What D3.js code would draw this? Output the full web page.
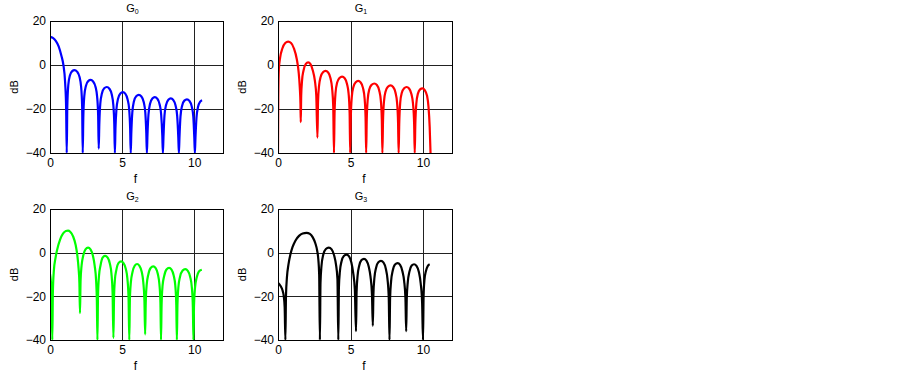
<!DOCTYPE html>
<html>
<head>
<meta charset="utf-8">
<script src="https://cdn.jsdelivr.net/npm/d3@7"></script>
<style>
  body { margin: 0; background: #fff; }
  text { font-family: "Liberation Sans", Arial, sans-serif; fill: #000; }
</style>
</head>
<body>
<svg id="chart" width="902" height="375"></svg>
<script>
// spectra, [f, dB]
const g0 = [[0,12.8],[0.2,12.3],[0.4,11],[0.6,8.5],[0.8,4],[0.93,0],[1.05,-8],[1.12,-20],[1.16,-40],
  [1.2,-19],[1.27,-9],[1.38,-4.8],[1.54,-2.8],[1.7,-2.3],[1.88,-3],[2.05,-5.5],[2.16,-10],[2.23,-19],[2.27,-40],
  [2.31,-24],[2.38,-14],[2.49,-9.5],[2.65,-7.3],[2.82,-6.8],[2.99,-7.5],[3.16,-10],[3.27,-14.5],[3.34,-23],[3.38,-38],
  [3.42,-27],[3.49,-17.5],[3.6,-13],[3.76,-10.6],[3.94,-10],[4.12,-10.8],[4.28,-13.3],[4.39,-18],[4.46,-27],[4.5,-40],
  [4.54,-29],[4.61,-20],[4.72,-15.3],[4.88,-12.9],[5.05,-12.3],[5.22,-13],[5.38,-15.6],[5.49,-20],[5.56,-29],[5.6,-40],
  [5.64,-31],[5.71,-21.5],[5.82,-16.6],[5.98,-14.2],[6.16,-13.6],[6.34,-14.3],[6.5,-16.8],[6.61,-21.5],[6.68,-31],[6.72,-40],
  [6.76,-32],[6.83,-22.5],[6.94,-17.6],[7.1,-15.2],[7.27,-14.6],[7.44,-15.3],[7.6,-17.8],[7.71,-22.5],[7.79,-32],[7.83,-40],
  [7.87,-33],[7.94,-23],[8.05,-18.2],[8.21,-15.8],[8.38,-15.2],[8.55,-15.9],[8.71,-18.4],[8.82,-23],[8.9,-33],[8.94,-40],
  [8.98,-33],[9.05,-23.5],[9.16,-18.6],[9.32,-16.2],[9.5,-15.6],[9.67,-16.3],[9.83,-18.8],[9.94,-23.5],[10.01,-33],[10.05,-40],
  [10.09,-33],[10.16,-24],[10.27,-19],[10.42,-16.6],[10.55,-16]];

const g1 = [[0,-40],[0.02,-15],[0.06,-2],[0.15,3.5],[0.3,7.5],[0.5,10],[0.7,10.6],[0.9,10],[1.1,7.5],[1.3,2.5],[1.42,-3],[1.5,-10],[1.55,-18],[1.57,-26],
  [1.6,-14],[1.66,-7],[1.76,-2.5],[1.92,0.5],[2.08,1.2],[2.24,0.4],[2.4,-2.5],[2.54,-7],[2.64,-14],[2.72,-33],
  [2.76,-17],[2.83,-9.5],[2.94,-5.5],[3.1,-3.3],[3.28,-2.7],[3.46,-3.4],[3.62,-6],[3.73,-10.5],[3.81,-19],[3.86,-40],
  [3.9,-22],[3.97,-12.5],[4.08,-8],[4.24,-5.9],[4.42,-5.3],[4.6,-6],[4.76,-8.6],[4.87,-13],[4.94,-22],[4.98,-40],
  [5.02,-24],[5.09,-14.5],[5.2,-10],[5.36,-7.8],[5.53,-7.2],[5.7,-7.9],[5.86,-10.4],[5.97,-15],[6.04,-24],[6.08,-40],
  [6.12,-25],[6.19,-15.5],[6.3,-11],[6.46,-9],[6.64,-8.4],[6.82,-9.1],[6.98,-11.6],[7.09,-16],[7.16,-25],[7.2,-40],
  [7.24,-26],[7.31,-16.5],[7.42,-12],[7.58,-9.9],[7.76,-9.3],[7.94,-10],[8.1,-12.5],[8.21,-17],[8.28,-26],[8.32,-40],
  [8.36,-27],[8.43,-17],[8.54,-12.6],[8.7,-10.6],[8.87,-10],[9.04,-10.7],[9.2,-13.2],[9.31,-17.5],[9.39,-27],[9.43,-40],
  [9.47,-27],[9.54,-17.5],[9.65,-13],[9.8,-11.1],[9.96,-10.6],[10.12,-11.4],[10.28,-14],[10.38,-19],[10.46,-28],[10.52,-40]];

const g2 = [[0,-9.7],[0.06,-13],[0.11,-19],[0.16,-40],
  [0.2,-18],[0.27,-8],[0.38,-2.5],[0.5,1.5],[0.7,6],[0.9,8.7],[1.1,9.9],[1.25,10.1],[1.4,9.6],[1.6,7.5],[1.78,3.5],[1.9,-1.5],[1.98,-7],[2.04,-14],[2.08,-27.7],
  [2.12,-13],[2.19,-6],[2.3,-1.5],[2.46,1.5],[2.64,2.3],[2.82,1.4],[2.98,-1.5],[3.1,-6],[3.2,-13],[3.25,-22],[3.29,-40],
  [3.33,-20],[3.4,-10.5],[3.5,-6],[3.65,-2.3],[3.82,-1.5],[4.0,-2.3],[4.15,-5],[4.26,-9.5],[4.34,-18],[4.4,-39],
  [4.44,-21],[4.5,-12.5],[4.6,-8],[4.76,-4.7],[4.93,-4],[5.1,-4.8],[5.26,-7.5],[5.37,-12],[5.45,-21],[5.5,-40],
  [5.54,-22],[5.61,-13.5],[5.72,-9],[5.88,-5.9],[6.04,-5.2],[6.2,-6],[6.36,-8.7],[6.47,-13.5],[6.55,-22],[6.6,-37.4],
  [6.64,-23],[6.71,-14.5],[6.82,-10],[6.98,-7],[7.16,-6.3],[7.33,-7.1],[7.48,-9.8],[7.59,-14.5],[7.66,-23],[7.7,-40],
  [7.74,-24],[7.81,-15],[7.92,-10.7],[8.08,-7.7],[8.26,-7],[8.43,-7.8],[8.58,-10.5],[8.69,-15],[8.76,-24],[8.8,-40],
  [8.84,-24],[8.91,-15.5],[9.02,-11],[9.2,-8.2],[9.38,-7.5],[9.56,-8.3],[9.72,-11],[9.84,-16],[9.91,-25],[9.95,-40],
  [9.99,-24],[10.06,-16],[10.17,-11.5],[10.33,-8.6],[10.53,-7.8]];

const g3 = [[0,-13.8],[0.1,-14.5],[0.2,-15.5],[0.3,-17],[0.4,-20],[0.46,-25],[0.51,-40],
  [0.55,-20],[0.62,-11],[0.72,-5.5],[0.85,-1],[1.0,2.5],[1.2,5.5],[1.45,7.7],[1.7,8.8],[1.97,9.1],[2.2,8.6],[2.4,7],[2.58,4.2],[2.7,1],[2.78,-3],[2.84,-10],[2.89,-40],
  [2.93,-14],[3.0,-6],[3.12,-1],[3.3,1.7],[3.5,2.3],[3.7,1.5],[3.88,-1.5],[4.0,-5.5],[4.1,-12],[4.16,-40],
  [4.2,-16],[4.27,-8.5],[4.38,-4],[4.54,-1.5],[4.72,-0.9],[4.9,-1.7],[5.06,-4.5],[5.18,-9],[5.3,-17],[5.38,-36],
  [5.42,-18],[5.49,-10.5],[5.6,-6],[5.76,-3.4],[5.93,-2.8],[6.1,-3.6],[6.26,-6.5],[6.38,-11],[6.48,-19],[6.54,-33.5],
  [6.58,-19],[6.65,-11.5],[6.76,-7],[6.92,-4.4],[7.1,-3.8],[7.28,-4.6],[7.44,-7.5],[7.55,-12],[7.64,-21],[7.69,-40],
  [7.73,-21],[7.8,-13],[7.91,-8.3],[8.07,-5.4],[8.25,-4.8],[8.42,-5.6],[8.58,-8.5],[8.7,-13],[8.79,-21],[8.84,-36],
  [8.88,-21],[8.95,-13.5],[9.06,-8.8],[9.22,-5.9],[9.38,-5.3],[9.55,-6.1],[9.72,-9],[9.84,-14],[9.94,-23],[10.0,-40],
  [10.04,-20],[10.1,-12.5],[10.2,-8.5],[10.32,-6.2],[10.46,-5.3]];

const seriesList = [g0, g1, g2, g3];
const subscripts = ['0', '1', '2', '3'];
const xTicks = [0, 5, 10];
const yTicks = [-40, -20, 0, 20];
const xDomain = [0, 12];
const yDomain = [-40, 20];

const colors = ['#0000ff', '#ff0000', '#00ff00', '#000000'];
const panels = [
  {left: 50, top: 21, width: 173, height: 132},
  {left: 278, top: 21, width: 174, height: 132},
  {left: 50, top: 209, width: 173, height: 131},
  {left: 278, top: 209, width: 174, height: 131}
];

const svg = d3.select('#chart');
svg.append('rect').attr('width', 902).attr('height', 375).attr('fill', '#fff');

const drawPanel = (data, idx) => {
  const p = panels[idx];
  const x = d3.scaleLinear().domain(xDomain).range([0, p.width]);
  const y = d3.scaleLinear().domain(yDomain).range([p.height, 0]);

  const g = svg.append('g')
    .attr('transform', 'translate(' + p.left + ',' + p.top + ')');

  g.append('clipPath').attr('id', 'clip' + idx)
    .append('rect').attr('width', p.width).attr('height', p.height);

  // grid
  g.selectAll('.vgrid')
    .data(xTicks.filter(d => d > xDomain[0] && d < xDomain[1]))
    .enter().append('line')
    .attr('x1', d => Math.round(x(d)) + 0.5).attr('x2', d => Math.round(x(d)) + 0.5)
    .attr('y1', 0).attr('y2', p.height)
    .attr('stroke', '#222').attr('stroke-width', 1);

  g.selectAll('.hgrid')
    .data(yTicks.filter(d => d > yDomain[0] && d < yDomain[1]))
    .enter().append('line')
    .attr('y1', d => Math.round(y(d)) + 0.5).attr('y2', d => Math.round(y(d)) + 0.5)
    .attr('x1', 0).attr('x2', p.width)
    .attr('stroke', '#222').attr('stroke-width', 1);

  const line = d3.line()
    .x(d => x(d[0]))
    .y(d => y(d[1]))
    .curve(d3.curveMonotoneX);

  g.append('path')
    .datum(data)
    .attr('clip-path', 'url(#clip' + idx + ')')
    .attr('d', line)
    .attr('fill', 'none')
    .attr('stroke', colors[idx])
    .attr('stroke-width', 2.2)
    .attr('stroke-linejoin', 'round');

  g.append('rect')
    .attr('x', 0.5).attr('y', 0.5)
    .attr('width', p.width).attr('height', p.height)
    .attr('fill', 'none').attr('stroke', '#000').attr('stroke-width', 1);

  const xAxisG = g.append('g')
    .attr('transform', 'translate(0,' + p.height + ')')
    .call(d3.axisBottom(x).tickValues(xTicks).tickSize(0).tickPadding(5));
  xAxisG.select('.domain').remove();
  xAxisG.selectAll('text')
    .style('font-family', '"Liberation Sans", Arial, sans-serif')
    .style('font-size', '12px').attr('fill', '#000');

  const yAxisG = g.append('g')
    .call(d3.axisLeft(y).tickValues(yTicks).tickSize(0).tickPadding(4));
  yAxisG.select('.domain').remove();
  yAxisG.selectAll('text')
    .style('font-family', '"Liberation Sans", Arial, sans-serif')
    .style('font-size', '12px').attr('fill', '#000');

  g.append('text')
    .attr('x', p.width / 2 - 1)
    .attr('y', p.height + 30)
    .attr('text-anchor', 'middle')
    .style('font-size', '12px')
    .text('f');

  g.append('text')
    .attr('transform', 'translate(' + (-32) + ',' + (p.height / 2) + ') rotate(-90)')
    .attr('text-anchor', 'middle')
    .style('font-size', '11px')
    .text('dB');

  const title = g.append('text')
    .attr('x', p.width / 2 - 4)
    .attr('y', -9)
    .attr('text-anchor', 'middle')
    .style('font-size', '11px');
  title.append('tspan').text('G');
  title.append('tspan')
    .attr('dy', 2)
    .style('font-size', '7px')
    .text(subscripts[idx]);
};

seriesList.forEach((s, i) => drawPanel(s, i));
</script>
</body>
</html>
